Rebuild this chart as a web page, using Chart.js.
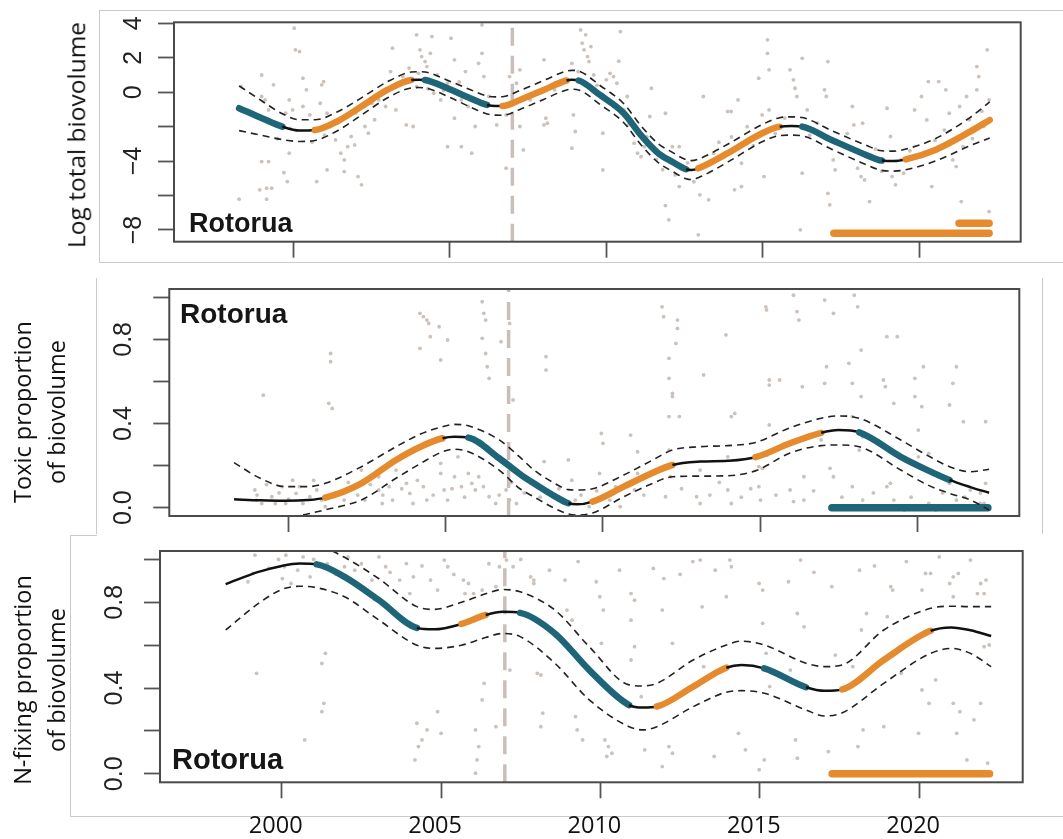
<!DOCTYPE html>
<html>
<head>
<meta charset="utf-8">
<script src="https://cdn.jsdelivr.net/npm/chart.js@4.4.1/dist/chart.umd.min.js"></script>
<style>
  html, body { margin: 0; padding: 0; background: #fff; overflow: hidden; width: 1063px; height: 839px; }
  #stage { position: relative; width: 1063px; height: 839px; overflow: hidden; background: #fff; }
  #stage canvas { position: absolute; left: 0; top: 0; }
  .rule { position: absolute; background: #cacaca; }
  .ytitle { position: absolute; font-family: "Open Sans", sans-serif; font-size: 23.5px; color: #111;
            white-space: nowrap; text-align: center; line-height: 33.5px;
            transform: translate(-50%, -50%) rotate(-90deg); }
  .site { position: absolute; font-family: "Liberation Sans", Arial, sans-serif; font-weight: bold;
          color: #161616; line-height: 1; white-space: nowrap; }
</style>
</head>
<body>
<div id="stage">
  <!-- panel frames -->
  <div class="rule" style="left:99px;top:10px;width:964px;height:1px"></div>
  <div class="rule" style="left:99px;top:262px;width:964px;height:1px"></div>
  <div class="rule" style="left:99px;top:10px;width:1px;height:253px"></div>
  <div class="rule" style="left:96px;top:278px;width:1px;height:256px"></div>
  <div class="rule" style="left:1042px;top:278px;width:1px;height:256px"></div>
  <div class="rule" style="left:70px;top:535px;width:27px;height:1px"></div>
  <div class="rule" style="left:70px;top:535px;width:1px;height:281px"></div>
  <div class="rule" style="left:70px;top:816px;width:993px;height:1px"></div>

  <canvas id="bioChart" width="1063" height="839"></canvas>
  <canvas id="toxChart" width="1063" height="839"></canvas>
  <canvas id="nfixChart" width="1063" height="839"></canvas>

  <div class="ytitle" style="left:76px;top:135px;font-size:24.5px">Log total biovolume</div>
  <div class="ytitle" style="left:39px;top:412px">Toxic proportion<br>of biovolume</div>
  <div class="ytitle" style="left:39px;top:680px">N-fixing proportion<br>of biovolume</div>

  <div class="site" style="left:189px;top:210px;font-size:27px">Rotorua</div>
  <div class="site" style="left:180px;top:300px;font-size:28px">Rotorua</div>
  <div class="site" style="left:172px;top:745px;font-size:29px">Rotorua</div>
</div>

<script>
// ---------- axis ticks ----------
const xTickYears = [2000, 2005, 2010, 2015, 2020];
const bioTicks = [-8, -6, -4, -2, 0, 2, 4];
const bioTickLabels = [-8, -4, 0, 2, 4];
const propTicks = [0, 0.2, 0.4, 0.6, 0.8, 1];
const propTickLabels = [0, 0.4, 0.8];
const breakYear = 2007.0;

// ---------- log total biovolume ----------
const bioYears = [1998.27, 1999.0, 1999.65, 2000.2, 2000.69, 2001.4, 2002.2, 2003.0, 2003.77, 2004.0, 2004.21,
  2005.0, 2005.6, 2006.19, 2006.47, 2006.69, 2007.24, 2008.0, 2008.73, 2008.9, 2009.12, 2009.8, 2010.56,
  2011.1, 2011.66, 2012.1, 2012.55, 2012.72, 2012.94, 2013.88, 2014.98, 2015.54, 2015.92, 2016.26, 2017.2,
  2018.3, 2018.8, 2019.19, 2019.57, 2020.51, 2021.62, 2022.25];
const bioFit = [-0.93, -1.51, -2.0, -2.23, -2.2, -1.7, -0.8, 0.13, 0.71, 0.73, 0.71,
  0.17, -0.31, -0.74, -0.8, -0.8, -0.45, 0.13, 0.68, 0.72, 0.68, -0.16, -1.22,
  -2.48, -3.54, -4.03, -4.47, -4.52, -4.42, -3.54, -2.38, -2.0, -1.96, -2.0, -2.77,
  -3.64, -3.97, -4.0, -3.9, -3.35, -2.29, -1.61];
const bioUpper = [0.37, -0.51, -1.25, -1.6, -1.6, -1.15, -0.3, 0.6, 1.17, 1.19, 1.17,
  0.64, 0.19, -0.22, -0.27, -0.26, 0.1, 0.68, 1.23, 1.27, 1.23, 0.39, -0.67,
  -1.93, -2.99, -3.48, -3.92, -3.97, -3.88, -3.02, -1.88, -1.48, -1.43, -1.47, -2.23,
  -3.08, -3.4, -3.42, -3.3, -2.7, -1.47, -0.56];
const bioLower = [-2.23, -2.51, -2.75, -2.86, -2.8, -2.25, -1.3, -0.34, 0.25, 0.27, 0.25,
  -0.3, -0.81, -1.26, -1.33, -1.34, -1.0, -0.42, 0.13, 0.17, 0.13, -0.71, -1.77,
  -3.03, -4.09, -4.58, -5.02, -5.07, -4.96, -4.06, -2.88, -2.52, -2.49, -2.53, -3.31,
  -4.2, -4.54, -4.58, -4.5, -4.0, -3.11, -2.66];
const bioTrend = [[1998.27, 1999.65, 'dec'], [2000.69, 2003.77, 'inc'], [2004.21, 2006.19, 'dec'],
  [2006.69, 2008.73, 'inc'], [2009.12, 2012.55, 'dec'], [2012.94, 2015.54, 'inc'],
  [2016.26, 2018.8, 'dec'], [2019.57, 2022.25, 'inc']];
const bioRecent = [[2017.27, 2022.23, -8.19, 'inc'], [2021.27, 2022.23, -7.61, 'inc']];
const bioObs = [[2000.03,3.72],[2000.07,2.46],[2000.2,2.36],[1998.99,1.0],[1999.37,0.43],[1999.87,-0.45],
  [2000.31,0.81],[2000.42,0.14],[2000.91,0.43],[2000.97,0.62],[1998.99,-0.25],[1999.1,-0.45],[1998.33,0.33],
  [1999.21,-1.03],[1999.76,-1.22],[1999.98,-1.03],[2000.31,-0.83],[2000.53,-1.32],[2000.86,-0.64],[2001.08,-1.22],
  [2001.19,-1.99],[2001.35,-2.77],[2001.52,-3.54],[2001.63,-3.93],[2001.74,-3.16],[2001.85,-2.57],[2001.96,-3.06],
  [1998.99,-4.03],[1999.21,-4.03],[1999.7,-4.67],[1999.81,-5.19],[2000.75,-5.19],[1999.87,-3.54],[2001.08,-4.51],
  [2001.63,-4.61],[2002.07,-4.9],[2002.18,-5.38],[1998.93,-5.67],[1999.15,-5.57],[1999.31,-5.57],[1998.27,-6.21],
  [1999.15,-6.21],[2002.29,-1.99],[2002.4,-2.38],[2002.51,-0.64],[2002.73,-0.45],[2002.95,-0.83],[2003.11,1.2],
  [2003.17,2.56],[2003.28,-1.03],[2003.61,-1.9],[2003.83,-1.99],[2003.94,3.33],[2004.05,2.46],[2004.1,2.07],
  [2004.21,1.78],[2004.27,1.49],[2004.38,2.26],[2004.43,3.23],[2004.16,0.72],[2003.94,0.33],[2004.49,-0.06],
  [2004.71,-0.45],[2004.93,0.52],[2005.04,3.14],[2005.15,1.88],[2004.93,-3.16],[2005.37,-3.16],[2005.15,-1.51],
  [2005.37,-0.45],[2005.59,-0.83],[2005.7,-3.54],[2005.81,-1.99],[2005.92,1.68],[2006.03,2.26],[2006.09,0.91],
  [2006.03,3.91],[2006.25,-0.25],[2006.69,-0.74],[2006.8,-1.32],[2006.91,0.91],[2007.13,0.52],[2007.24,-1.99],
  [2007.35,-3.35],[2006.8,-4.41],[2007.24,1.3],[2007.57,-0.45],[2008.01,1.88],[2008.07,-1.51],[2008.12,-1.8],
  [2008.01,-1.9],[2008.35,0.14],[2008.9,1.68],[2008.95,-1.32],[2009.01,-2.28],[2009.18,3.62],[2009.23,2.85],
  [2009.29,2.46],[2009.4,2.07],[2009.34,3.33],[2009.45,1.78],[2009.51,2.65],[2008.9,-3.25],[2009.89,-2.38],
  [2009.89,-4.51],[2010.0,0.72],[2010.12,1.1],[2010.23,0.91],[2010.34,0.52],[2010.45,3.52],[2010.56,-1.03],
  [2010.67,-0.25],[2010.89,-2.96],[2011.0,-3.54],[2011.11,-3.74],[2011.22,-3.16],[2011.39,-1.41],[2011.44,0.23],
  [2011.89,-1.22],[2011.89,-6.58],[2012.0,-7.41],[2012.11,-3.16],[2012.33,-3.16],[2012.33,-5.48],[2012.44,-4.32],
  [2012.94,-8.28],[2013.1,-0.25],[2012.99,-5.96],[2013.27,-6.25],[2013.43,-3.54],[2013.77,-3.74],[2013.88,-1.12],
  [2013.99,-1.12],[2014.1,-5.67],[2014.32,-5.48],[2014.21,-0.45],[2014.32,-4.12],[2014.87,0.81],[2014.98,-1.32],
  [2015.04,-4.9],[2015.15,3.04],[2015.15,2.26],[2015.2,1.3],[2015.2,-1.03],[2015.87,1.3],[2015.98,0.72],
  [2016.03,0.23],[2016.09,-0.25],[2016.26,1.97],[2016.26,-4.7],[2016.2,-7.99],[2016.42,-1.03],[2016.75,-1.8],
  [2016.97,0.14],[2017.03,-0.25],[2017.08,1.78],[2017.08,-5.87],[2017.14,-6.54],[2017.25,-3.93],[2017.31,-4.51],
  [2017.86,-0.83],[2017.91,-1.9],[2018.03,-4.41],[2018.14,-4.9],[2018.25,-5.09],[2018.19,-1.8],[2018.41,-6.35],
  [2018.97,-0.93],[2019.08,-2.57],[2019.13,-4.9],[2019.24,-5.38],[2019.41,-3.93],[2019.85,-1.03],[2020.07,-0.25],
  [2020.24,-1.61],[2020.29,0.62],[2020.4,-5.48],[2020.62,0.62],[2020.85,0.14],[2020.96,-1.22],[2021.07,-3.93],
  [2021.18,-4.32],[2021.29,-0.83],[2021.34,-6.35],[2021.4,-3.16],[2021.51,-0.25],[2021.84,0.14],[2021.84,1.49],
  [2021.9,0.91],[2022.06,-1.99],[2022.17,2.46],[2022.23,-0.45],[2022.23,-6.93],
  [2003.5,0.9],[2003.7,1.4],[2004.0,1.1],[2004.3,0.2],[2004.6,1.0],[2004.8,0.1],[2005.3,0.6],[2005.5,1.2],
  [2009.1,1.2],[2009.6,1.0],[2009.7,0.4],[2010.2,-0.6],[2010.4,1.8],[2010.7,-1.9],[2011.3,-2.6],[2011.6,-3.9],
  [2011.8,-4.5],[2012.2,-4.8],[2012.6,-4.1],[2012.8,-5.2],[2013.3,-4.2],[2013.6,-2.9],[2014.0,-2.6],[2014.5,-2.0],
  [2014.7,-3.1],[2015.4,-2.4],[2015.7,-1.5],[2016.5,-2.5],[2017.5,-3.0],[2017.7,-2.4],[2018.6,-3.3],[2018.8,-4.6],
  [2019.5,-4.7],[2019.7,-3.4],[2020.0,-3.7],[2020.5,-2.8],[2020.8,-2.2],[2021.6,-1.6],[2021.7,-2.7],[2022.0,-1.1],
  [1999.5,-2.7],[1999.9,-2.1],[2000.6,-2.9],[2001.0,-2.5],[2002.0,-1.2],[2002.6,-1.6],[2006.5,-1.9],[2007.0,-0.2]];

// ---------- toxic proportion of biovolume ----------
const toxYears = [1998.27, 1999.1, 1999.91, 2000.6, 2001.17, 2002.32, 2003.42, 2004.2, 2004.9, 2005.28, 2005.72,
  2006.7, 2007.36, 2007.8, 2008.46, 2008.9, 2009.18, 2009.67, 2010.66, 2011.5, 2012.21, 2013.09, 2013.97,
  2014.85, 2015.95, 2016.94, 2017.49, 2018.15, 2019.47, 2020.3, 2021.02, 2021.68, 2022.28];
const toxFit = [0.04, 0.035, 0.033, 0.036, 0.048, 0.116, 0.227, 0.29, 0.33, 0.337, 0.333,
  0.235, 0.16, 0.116, 0.055, 0.021, 0.016, 0.029, 0.1, 0.16, 0.203, 0.219, 0.223,
  0.24, 0.306, 0.356, 0.369, 0.358, 0.242, 0.18, 0.132, 0.098, 0.071];
const toxUpper = [0.214, 0.14, 0.1, 0.1, 0.116, 0.195, 0.29, 0.35, 0.385, 0.396, 0.389,
  0.322, 0.24, 0.18, 0.116, 0.086, 0.084, 0.09, 0.155, 0.22, 0.274, 0.29, 0.295,
  0.31, 0.38, 0.425, 0.436, 0.425, 0.322, 0.25, 0.195, 0.171, 0.183];
const toxLower = [-0.13, -0.09, -0.05, -0.03, -0.01, 0.037, 0.14, 0.21, 0.266, 0.278, 0.266,
  0.179, 0.09, 0.052, -0.003, -0.03, -0.035, -0.025, 0.052, 0.11, 0.147, 0.15, 0.152,
  0.175, 0.26, 0.295, 0.298, 0.29, 0.179, 0.11, 0.068, 0.037, -0.011];
const toxTrend = [[2001.17, 2004.9, 'inc'], [2005.72, 2008.9, 'dec'], [2009.67, 2012.21, 'inc'],
  [2014.85, 2016.94, 'inc'], [2018.15, 2021.02, 'dec']];
const toxRecent = [[2017.28, 2022.24, 0.0, 'dec']];
const toxObs = [[1999.2,0.535],[2001.34,0.733],[2001.34,0.694],[2001.28,0.496],[2001.39,0.472],[2004.18,0.924],
  [2004.29,0.908],[2004.4,0.892],[2004.46,0.876],[2004.51,0.813],[2004.79,0.86],[2005.06,0.797],[2004.18,0.757],
  [2004.84,0.702],[2006.16,0.979],[2006.21,0.924],[2006.27,0.892],[2006.16,0.805],[2006.27,0.733],[2006.32,0.67],
  [2006.38,0.615],[2006.76,0.789],[2007.14,0.512],[2007.03,0.876],[1998.93,0.084],[1998.98,0.036],[1999.15,0.02],
  [1999.47,0.052],[1999.58,0.02],[1999.8,0.1],[1999.91,0.02],[2000.13,0.131],[2000.24,0.068],[2000.46,0.02],
  [2000.68,0.052],[2000.9,0.084],[2001.06,0.036],[2001.17,0.005],[2001.77,0.036],[2001.99,0.1],[2002.32,0.179],
  [2002.43,0.036],[2002.87,0.084],[2002.98,0.02],[2003.2,0.1],[2003.31,0.036],[2003.75,0.116],[2003.86,0.068],
  [2003.96,0.02],[2004.29,0.1],[2004.4,0.036],[2004.84,0.163],[2004.95,0.084],[2005.06,0.036],[2005.28,0.147],
  [2005.5,0.1],[2005.83,0.116],[2005.94,0.084],[2006.05,0.147],[2006.38,0.052],[2006.59,0.02],[2006.92,0.084],
  [2007.03,0.036],[2007.25,0.02],[2004.84,0.211],[2005.39,0.242],[2005.72,0.163],[2002.87,0.147],[2003.42,0.179],
  [2008.19,0.718],[2008.19,0.654],[2008.13,0.219],[2008.9,0.227],[2009.01,0.131],[2009.12,0.036],[2009.56,0.005],
  [2009.89,0.163],[2009.95,0.353],[2010.0,0.306],[2010.22,0.036],[2010.55,0.005],[2010.88,0.345],[2011.1,0.266],
  [2011.0,0.084],[2011.88,0.955],[2011.93,0.908],[2012.1,0.71],[2012.21,0.543],[2012.21,0.528],[2012.37,0.892],
  [2012.37,0.852],[2012.32,0.781],[2012.1,0.615],[2012.1,0.433],[2012.43,0.433],[2012.1,0.274],[2012.15,0.147],
  [2011.99,0.052],[2012.98,0.052],[2013.09,0.02],[2013.2,0.631],[2013.91,0.821],[2014.08,0.433],[2014.19,0.448],
  [2013.97,0.084],[2014.08,0.02],[2014.96,0.1],[2015.01,0.036],[2015.18,0.955],[2015.2,0.94],[2015.29,0.607],
  [2015.29,0.583],[2015.29,0.393],[2015.23,0.25],[2015.07,0.187],[2015.62,0.607],[2016.06,1.01],[2016.17,0.932],
  [2016.23,0.892],[2015.95,0.084],[2016.06,0.029],[2016.34,0.575],[2016.39,0.036],[2017.05,0.987],[2017.11,0.67],
  [2017.05,0.591],[2016.94,0.322],[2017.33,0.924],[2017.33,0.147],[2017.82,0.686],[2017.93,0.591],[2017.93,0.433],
  [2017.99,1.01],[2018.1,0.955],[2018.21,0.749],[2018.21,0.528],[2018.26,0.337],[2017.93,0.1],[2018.26,0.036],
  [2018.92,0.607],[2018.98,0.575],[2019.03,0.813],[2019.36,0.813],[2019.25,0.496],[2019.14,0.116],[2019.25,0.036],
  [2019.92,0.615],[2019.92,0.528],[2020.14,0.48],[2020.19,0.67],[2020.03,0.369],[2020.03,0.242],[2020.36,0.258],
  [2020.36,0.02],[2021.02,0.488],[2021.13,0.591],[2021.24,0.67],[2021.46,0.409],[2021.02,0.116],[2021.24,0.036],
  [2021.68,0.084],[2021.99,0.02],[2022.17,0.409],[2022.17,0.116],[2022.12,0.02],[2020.58,-0.011],[2019.58,-0.011],
  [2019.03,0.1],[2018.15,0.274],[2017.22,0.187],[2016.39,0.147],[2014.96,0.195],[2013.97,0.242],[2013.09,0.179],
  [2011.1,0.163],
  [1999.0,0.06],[1999.3,0.11],[1999.7,0.07],[2000.0,0.04],[2000.35,0.1],[2000.8,0.13],[2001.5,0.07],[2001.9,0.12],
  [2002.2,0.06],[2002.6,0.11],[2003.0,0.06],[2003.6,0.09],[2004.1,0.13],[2004.6,0.06],[2005.2,0.09],[2005.6,0.05],
  [2006.2,0.1],[2006.7,0.06],[2007.1,0.12],[2007.5,0.07],[2008.0,0.05],[2008.6,0.09],[2009.3,0.06],[2009.8,0.08],
  [2010.4,0.1],[2011.3,0.06],[2012.5,0.09],[2013.4,0.06],[2013.7,0.12],[2014.4,0.05],[2014.7,0.09],[2015.5,0.06],
  [2016.7,0.08],[2017.6,0.05],[2018.6,0.07],[2019.8,0.05],[2020.8,0.07],[2021.5,0.05],[2022.0,0.07]];

// ---------- N-fixing proportion of biovolume ----------
const nfixYears = [1998.24, 1999.27, 2000.0, 2000.56, 2001.1, 2001.97, 2003.05, 2004.24, 2004.78, 2005.64, 2006.4,
  2006.94, 2007.48, 2008.57, 2009.65, 2010.9, 2011.34, 2011.77, 2012.91, 2013.95, 2014.43, 2015.14, 2016.45,
  2017.04, 2017.59, 2018.89, 2020.36, 2021.01, 2021.61, 2022.26];
const nfixFit = [0.885, 0.942, 0.97, 0.981, 0.977, 0.919, 0.81, 0.681, 0.674, 0.699, 0.741,
  0.756, 0.751, 0.655, 0.484, 0.321, 0.309, 0.314, 0.407, 0.495, 0.508, 0.492, 0.404,
  0.387, 0.394, 0.531, 0.667, 0.683, 0.67, 0.643];
const nfixUpper = [1.1, 1.09, 1.085, 1.08, 1.07, 1.01, 0.91, 0.78, 0.767, 0.8, 0.84,
  0.86, 0.849, 0.764, 0.593, 0.415, 0.41, 0.422, 0.531, 0.601, 0.619, 0.601, 0.516,
  0.5, 0.508, 0.671, 0.772, 0.782, 0.78, 0.78];
const nfixLower = [0.671, 0.795, 0.86, 0.875, 0.868, 0.826, 0.717, 0.6, 0.585, 0.6, 0.636,
  0.655, 0.64, 0.516, 0.345, 0.22, 0.205, 0.22, 0.313, 0.381, 0.388, 0.376, 0.298,
  0.27, 0.285, 0.422, 0.562, 0.585, 0.562, 0.5];
const nfixTrend = [[2001.1, 2004.24, 'dec'], [2005.64, 2006.4, 'inc'], [2007.48, 2010.9, 'dec'],
  [2011.77, 2013.95, 'inc'], [2015.14, 2016.45, 'dec'], [2017.59, 2020.36, 'inc']];
const nfixRecent = [[2017.27, 2022.21, 0.0, 'inc']];
const nfixObs = [[1999.16,1.02],[1999.1,0.935],[1998.94,0.896],[2000.13,1.02],[2000.08,0.966],[2000.02,0.911],
  [2000.29,0.888],[2000.67,1.012],[2000.89,0.919],[2001.43,0.981],[2002.08,1.012],[2001.97,0.966],[2002.29,0.95],
  [2002.83,0.904],[2003.05,1.012],[2003.26,0.966],[2003.7,0.904],[2003.91,0.981],[2004.13,0.919],[2004.02,0.841],
  [2004.67,0.904],[2004.89,0.857],[2005.1,0.997],[2005.21,0.966],[2005.7,0.904],[2005.86,0.888],[2006.02,0.841],
  [2005.75,0.841],[2006.29,0.857],[2006.72,0.873],[2006.83,0.966],[2007.05,0.997],[2007.26,0.966],[2007.81,0.919],
  [2007.91,0.888],[2001.37,0.562],[2001.26,0.515],[1999.21,0.469],[2001.32,0.329],[2001.26,0.29],[2000.72,0.158],
  [2004.24,0.236],[2004.29,0.127],[2004.4,0.158],[2004.56,0.205],[2004.18,0.065],[2004.89,0.29],[2005.0,0.189],
  [2006.08,0.205],[2006.18,0.127],[2006.13,0.065],[2006.08,0.003],[2006.35,0.422],[2006.29,0.345],[2006.72,0.22],
  [2007.16,0.484],[2008.02,0.469],[2007.91,0.904],[2008.89,0.904],[2008.95,0.764],[2009.11,0.717],[2009.87,0.896],
  [2009.98,0.826],[2010.09,0.764],[2010.03,0.609],[2008.13,0.461],[2008.19,0.283],[2008.13,0.22],[2009.22,0.267],
  [2009.27,0.205],[2009.44,0.158],[2010.14,0.158],[2010.25,0.127],[2010.36,0.096],[2010.2,0.081],[2010.96,0.841],
  [2011.07,0.81],[2010.96,0.717],[2011.07,0.593],[2010.96,0.531],[2011.28,0.36],[2011.39,0.112],[2011.94,0.034],
  [2011.66,0.958],[2011.99,0.911],[2011.94,0.764],[2012.26,0.609],[2012.15,0.127],[2012.26,0.096],[2013.13,0.997],
  [2013.19,0.779],[2013.24,0.5],[2013.57,0.081],[2013.95,0.826],[2014.06,0.997],[2014.11,0.966],[2014.33,0.189],
  [2014.55,0.112],[2014.98,0.888],[2015.09,0.857],[2015.09,0.702],[2015.2,0.562],[2015.14,0.065],[2014.98,0.019],
  [2015.31,0.407],[2015.9,0.896],[2015.96,0.484],[2016.18,0.748],[2016.28,0.997],[2016.39,0.686],[2016.12,0.158],
  [2016.18,0.073],[2017.15,0.104],[2017.26,0.873],[2017.37,0.554],[2017.92,0.5],[2018.08,0.127],[2018.13,0.95],
  [2018.19,0.671],[2018.24,0.205],[2018.35,0.748],[2018.89,0.22],[2019.0,0.733],[2019.11,0.873],[2019.17,0.857],
  [2019.22,0.562],[2019.44,0.469],[2019.98,0.189],[2020.09,0.857],[2020.2,0.935],[2020.36,0.935],[2020.31,0.329],
  [2020.52,0.438],[2020.63,1.012],[2020.96,0.888],[2021.07,0.826],[2021.07,0.329],[2021.18,0.189],[2021.23,0.935],
  [2021.07,0.919],[2021.28,0.29],[2021.5,0.065],[2021.61,0.997],[2021.83,0.841],[2021.93,0.888],[2022.04,0.841],
  [2022.1,0.904],[2021.93,0.329],[2022.04,0.593],[2022.2,0.601],[2022.15,0.05],[2021.72,0.252],[2020.09,0.391],
  [1999.6,0.96],[1999.9,1.0],[2000.5,0.95],[2001.0,1.0],[2001.7,0.93],[2002.5,0.98],[2003.4,0.94],[2004.4,0.97],
  [2005.4,0.93],[2006.5,0.98],[2007.5,1.0],[2008.4,0.95],[2009.3,0.99],[2010.6,0.95],[2012.5,0.93],[2012.9,0.99],
  [2013.6,0.95],[2016.7,0.94],[2018.6,0.97],[2019.6,0.99]];

// ---------- styling ----------
const ORANGE = '#E68A2E';
const TEAL = '#1D6577';
const INK = '#111111';
const DOT = 'rgb(204,194,187)';
const BREAK_COLOR = 'rgb(201,191,184)';
const PAGE_W = 1063, PAGE_H = 839;
const Y_AXIS_W = 80, X_AXIS_H = 56;

function trendAt(trend, x) {
  for (const [a, b, dir] of trend) {
    if (x >= a && x <= b) return dir;
  }
  return null;
}
const dirColor = d => d === 'inc' ? ORANGE : (d === 'dec' ? TEAL : INK);
const xy = (xs, ys) => xs.map((x, i) => ({ x, y: ys[i] }));

const plotBox = {
  id: 'plotBox',
  afterDraw(chart) {
    const { ctx, chartArea: a } = chart;
    ctx.save();
    ctx.strokeStyle = '#4a4a4a';
    ctx.lineWidth = 2;
    ctx.strokeRect(a.left, a.top, a.right - a.left, a.bottom - a.top);
    ctx.restore();
  }
};

function buildPanel(canvasId, s) {
  const mid = c => (c.p0.parsed.x + c.p1.parsed.x) / 2;
  const datasets = [
    {
      data: xy(s.years, s.fit), borderColor: INK, borderWidth: 2.5, pointRadius: 0,
      cubicInterpolationMode: 'monotone',
      segment: {
        borderColor: c => dirColor(trendAt(s.trend, mid(c))),
        borderWidth: c => trendAt(s.trend, mid(c)) ? 6.5 : 2.5,
        borderCapStyle: c => trendAt(s.trend, mid(c)) ? 'round' : 'butt'
      }
    },
    { data: xy(s.years, s.upper), borderColor: '#222', borderWidth: 1.6, borderDash: [7, 5],
      pointRadius: 0, cubicInterpolationMode: 'monotone' },
    { data: xy(s.years, s.lower), borderColor: '#222', borderWidth: 1.6, borderDash: [7, 5],
      pointRadius: 0, cubicInterpolationMode: 'monotone' }
  ];
  for (const [from, to, level, dir] of s.recent) {
    datasets.push({ data: [{ x: from, y: level }, { x: to, y: level }], borderColor: dirColor(dir),
      borderWidth: 7.5, borderCapStyle: 'round', pointRadius: 0 });
  }
  datasets.push({ data: [{ x: breakYear, y: s.yMin }, { x: breakYear, y: s.yMax }], borderColor: BREAK_COLOR,
    borderWidth: 3.5, borderDash: [18, 10], pointRadius: 0 });
  datasets.push({ type: 'scatter', data: s.obs.map(([x, y]) => ({ x, y })), showLine: false,
    pointRadius: 1.9, pointBackgroundColor: DOT, pointBorderWidth: 0 });

  const b = s.box;
  return new Chart(document.getElementById(canvasId), {
    type: 'line',
    data: { datasets },
    plugins: [plotBox],
    options: {
      responsive: false, animation: false, events: [], devicePixelRatio: 1,
      layout: { padding: { left: b.left - Y_AXIS_W, top: b.top, right: PAGE_W - b.right, bottom: PAGE_H - b.bottom - X_AXIS_H } },
      plugins: { legend: { display: false }, tooltip: { enabled: false } },
      scales: {
        x: {
          type: 'linear', min: s.xMin, max: s.xMax,
          afterBuildTicks: sc => { sc.ticks = xTickYears.map(v => ({ value: v })); },
          afterFit: sc => { sc.height = X_AXIS_H; sc.paddingLeft = 0; sc.paddingRight = 0; sc.paddingTop = 0; sc.paddingBottom = 0; },
          grid: { drawOnChartArea: false, drawTicks: true, tickLength: 16, tickWidth: 1.8, tickColor: '#555', color: '#555' },
          border: { display: false },
          ticks: {
            autoSkip: false, maxRotation: 0, minRotation: 0, padding: 14, labelOffset: -6,
            font: { family: 'Open Sans', size: 23.5 }, color: '#111',
            callback: v => s.xLabels ? String(v) : ''
          }
        },
        y: {
          type: 'linear', min: s.yMin, max: s.yMax,
          afterBuildTicks: sc => { sc.ticks = s.yTicks.map(v => ({ value: v })); },
          afterFit: sc => { sc.width = Y_AXIS_W; sc.paddingLeft = 0; sc.paddingRight = 0; sc.paddingTop = 0; sc.paddingBottom = 0; },
          grid: { drawOnChartArea: false, drawTicks: true, tickLength: 16, tickWidth: 1.8, tickColor: '#555', color: '#555' },
          border: { display: false },
          ticks: {
            autoSkip: false, minRotation: 90, maxRotation: 90, crossAlign: 'center', padding: s.yPad,
            font: { family: 'Liberation Sans', size: 25 }, color: '#222',
            callback: v => s.yLabeled.includes(v) ? s.fmt(v) : ''
          }
        }
      }
    }
  });
}

const fmtBio = v => v < 0 ? '\u2212' + Math.abs(v) : String(v);
const fmtProp = v => v.toFixed(1);

buildPanel('bioChart', {
  box: { left: 174, top: 22.3, right: 1020.7, bottom: 241.7 },
  xMin: 1996.19, xMax: 2023.24, yMin: -8.68, yMax: 4.06,
  years: bioYears, fit: bioFit, upper: bioUpper, lower: bioLower, trend: bioTrend,
  recent: bioRecent, obs: bioObs, yTicks: bioTicks, yLabeled: bioTickLabels, fmt: fmtBio,
  yPad: 9.5, xLabels: false
});
buildPanel('toxChart', {
  box: { left: 169.3, top: 289, right: 1019.3, bottom: 516 },
  xMin: 1996.21, xMax: 2023.24, yMin: -0.0395, yMax: 1.0395,
  years: toxYears, fit: toxFit, upper: toxUpper, lower: toxLower, trend: toxTrend,
  recent: toxRecent, obs: toxObs, yTicks: propTicks, yLabeled: propTickLabels, fmt: fmtProp,
  yPad: 12, xLabels: false
});
buildPanel('nfixChart', {
  box: { left: 160, top: 551, right: 1022.7, bottom: 782.3 },
  xMin: 1996.18, xMax: 2023.25, yMin: -0.0395, yMax: 1.0395,
  years: nfixYears, fit: nfixFit, upper: nfixUpper, lower: nfixLower, trend: nfixTrend,
  recent: nfixRecent, obs: nfixObs, yTicks: propTicks, yLabeled: propTickLabels, fmt: fmtProp,
  yPad: 11.7, xLabels: true
});
</script>
</body>
</html>
